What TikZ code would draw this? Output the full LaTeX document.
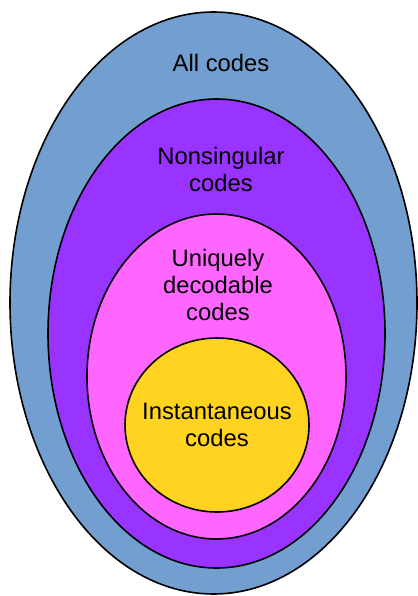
\documentclass[tikz,border=0pt]{standalone}
\usepackage{fontspec}
\setmainfont{Liberation Sans}
\definecolor{allblue}{HTML}{729FCF}
\definecolor{nonsingpurple}{HTML}{9933FF}
\definecolor{uniqpink}{HTML}{FF66FF}
\definecolor{instyellow}{HTML}{FFD320}
\tikzset{
    setline/.style={draw=black, line width=1.6pt},
    setlabel/.style={align=center, font=\fontsize{23.8}{27}\selectfont}
}
\begin{document}
\begin{tikzpicture}[x=1pt, y=-1pt]
        \useasboundingbox (0,0) rectangle (417,596);
        % nested sets, outermost first
        \filldraw[setline, fill=allblue] (213.5,303) ellipse [x radius=203.5, y radius=291];
        \filldraw[setline, fill=nonsingpurple] (216.5,333.5) ellipse [x radius=168.5, y radius=234.5];
        \filldraw[setline, fill=uniqpink] (216.5,376.5) ellipse [x radius=129.5, y radius=162.5];
        \filldraw[setline, fill=instyellow] (217,425) ellipse [x radius=92, y radius=87];
        % labels
        \node[setlabel] (allcodes) at (221,63) {All codes};
        \node[setlabel] (nonsingular) at (221,169) {Nonsingular\\codes};
        \node[setlabel] (uniquely) at (218,285) {Uniquely\\decodable\\codes};
        \node[setlabel] (instantaneous) at (217,425) {Instantaneous\\codes};
    \end{tikzpicture}
\end{document}
